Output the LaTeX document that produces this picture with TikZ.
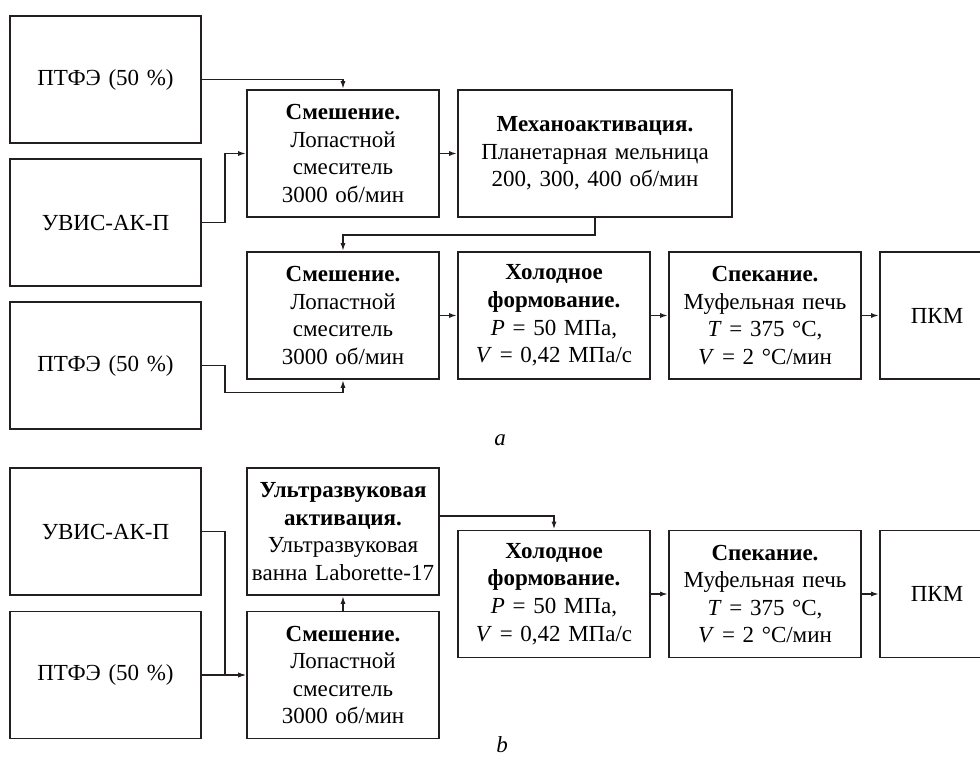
\documentclass[tikz,border=0pt]{standalone}
\usepackage{fontspec}
\setmainfont{Liberation Serif}
\usetikzlibrary{arrows.meta,calc}
\definecolor{ink}{RGB}{35,31,32}

\begin{document}
\begin{tikzpicture}[x=1pt,y=-1pt,
	font=\fontsize{23}{27.6}\selectfont,
	box/.style={draw=ink,line width=1.7pt,align=center,inner sep=0pt,
		text width=#1,minimum height=127pt},
	box/.default=192pt,
	link/.style={draw=ink,line width=1.6pt,-{Latex[length=8pt,width=5pt]}},
	tag/.style={font=\fontsize{23}{27.6}\selectfont\itshape}]
	\useasboundingbox (0,0) rectangle (980,760);
	\def\j{23} %jog of the side inputs
	
	%PANEL A
	\node[box=191pt] (ptfeA) at (105.5,79.5)  {ПТФЭ (50 \%)};
	\node[box=191pt] (uvisA) at (105.5,222.5) {УВИС-АК-П};
	\node[box=191pt] (ptfeB) at (105.5,365.5) {ПТФЭ (50 \%)};
	\node[box] (mixA) at (343,153.5) {\textbf{Смешение.}\\Лопастной\\смеситель\\3000 об/мин};
	\node[box=274pt] (mechA) at (595,153.5) {\textbf{Механоактивация.}\\Планетарная мельница\\200, 300, 400 об/мин};
	\node[box] (mixB) at (343,315.5) {\textbf{Смешение.}\\Лопастной\\смеситель\\3000 об/мин};
	\node[box] (coldA) at (554,315.5) {\textbf{Холодное}\\\textbf{формование.}\\\textit{P} = 50 МПа,\\\textit{V} = 0,42 МПа/с};
	\node[box] (sintA) at (765,315.5) {\textbf{Спекание.}\\Муфельная печь\\\textit{T} = 375 °C,\\\textit{V} = 2 °C/мин};
	\node[box=114pt] (pkmA) at (937,315.5) {ПКМ};
	\node[tag] (capA) at (500,440) {a};
	
	\draw[link] (ptfeA.east) -| (mixA.north);
	\draw[link] (uvisA.east) -- ++(\j,0) |- (mixA.west);
	\draw[link] (mixA) -- (mechA);
	\draw[link] (mechA.south) -- ++(0,17) -| (mixB.north);
	\draw[link] (ptfeB.east) -- ++(\j,0) -- ++(0,27) -| (mixB.south);
	\draw[link] (mixB) -- (coldA);
	\draw[link] (coldA) -- (sintA);
	\draw[link] (sintA) -- (pkmA);
	
	%PANEL B
	\node[box=191pt] (uvisC) at (105.5,531.5) {УВИС-АК-П};
	\node[box=191pt] (ptfeC) at (105.5,675)   {ПТФЭ (50 \%)};
	\node[box] (usC)  at (343,531.5) {\textbf{Ультразвуковая}\\\textbf{активация.}\\Ультразвуковая\\ванна Laborette-17};
	\node[box] (mixC) at (343,675) {\textbf{Смешение.}\\Лопастной\\смеситель\\3000 об/мин};
	\node[box] (coldC) at (554,594) {\textbf{Холодное}\\\textbf{формование.}\\\textit{P} = 50 МПа,\\\textit{V} = 0,42 МПа/с};
	\node[box] (sintC) at (765,594) {\textbf{Спекание.}\\Муфельная печь\\\textit{T} = 375 °C,\\\textit{V} = 2 °C/мин};
	\node[box=114pt] (pkmC) at (937,594) {ПКМ};
	\node[tag] (capB) at (502,745) {b};
	
	\draw[link] (uvisC.east) -- ++(\j,0) |- (mixC.west);
	\draw[link] (ptfeC) -- (mixC);
	\draw[link] (mixC) -- (usC);
	\draw[link] ($(usC.east)+(0,-15.5)$) -| (coldC.north);
	\draw[link] (coldC) -- (sintC);
	\draw[link] (sintC) -- (pkmC);
\end{tikzpicture}
\end{document}
